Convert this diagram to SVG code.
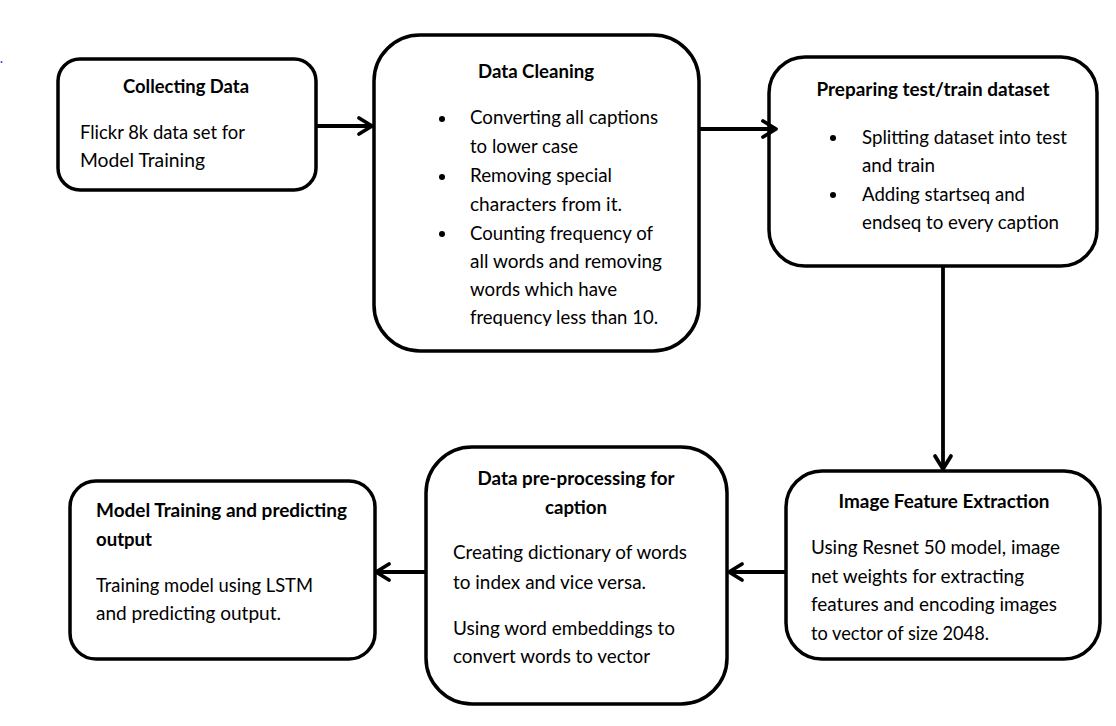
<svg xmlns="http://www.w3.org/2000/svg" width="1116" height="726" viewBox="0 0 1116 726">
<style>
.box{fill:#fff;stroke:#000;stroke-width:3.5}
text{font-family:Lato,"Open Sans","Liberation Sans",sans-serif;font-size:18.5px;fill:#000}
.t{font-weight:bold}
.c{text-anchor:middle}
.conn line{stroke:#000;stroke-width:3.8;marker-end:url(#ah)}
</style>
<defs>
<marker id="ah" markerUnits="userSpaceOnUse" viewBox="0 0 24 24" refX="19" refY="12" markerWidth="24" markerHeight="24" orient="auto" overflow="visible">
<path d="M6,4 L19,12 L6,20" fill="none" stroke="#000" stroke-width="3.8" stroke-linejoin="round" stroke-linecap="round"/>
</marker>
<clipPath id="clip2"><rect x="373" y="34" width="326" height="292"/></clipPath>
</defs>
<rect width="1116" height="726" fill="#fff"/>
<circle cx="1.5" cy="62" r="1" fill="#3344bb"/>

<g id="collecting-data">
<rect class="box" x="58" y="59" width="258" height="131" rx="22"/>
<text class="t c" x="186" y="93" textLength="126" lengthAdjust="spacingAndGlyphs">Collecting Data</text>
<text x="80" y="139" textLength="165" lengthAdjust="spacingAndGlyphs">Flickr 8k data set for</text>
<text x="80" y="167" textLength="125" lengthAdjust="spacingAndGlyphs">Model Training</text>
</g>

<g id="data-cleaning">
<rect class="box" x="374" y="35" width="325" height="316" rx="46"/>
<text class="t c" x="536" y="78" textLength="116" lengthAdjust="spacingAndGlyphs">Data Cleaning</text>
<circle cx="442" cy="119" r="3"/>
<circle cx="442" cy="177" r="3"/>
<circle cx="442" cy="234" r="3"/>
<g clip-path="url(#clip2)">
<text x="470" y="124" textLength="188" lengthAdjust="spacingAndGlyphs">Converting all captions</text>
<text x="470" y="153" textLength="108" lengthAdjust="spacingAndGlyphs">to lower case</text>
<text x="470" y="182" textLength="142" lengthAdjust="spacingAndGlyphs">Removing special</text>
<text x="470" y="211" textLength="152" lengthAdjust="spacingAndGlyphs">characters from it.</text>
<text x="470" y="240" textLength="183" lengthAdjust="spacingAndGlyphs">Counting frequency of</text>
<text x="470" y="268" textLength="192" lengthAdjust="spacingAndGlyphs">all words and removing</text>
<text x="470" y="296" textLength="147" lengthAdjust="spacingAndGlyphs">words which have</text>
<text x="470" y="324" textLength="188" lengthAdjust="spacingAndGlyphs">frequency less than 10.</text>
</g>
</g>

<g id="prepare-dataset">
<rect class="box" x="769" y="57" width="328" height="209" rx="36"/>
<text class="t c" x="933" y="96" textLength="233" lengthAdjust="spacingAndGlyphs">Preparing test/train dataset</text>
<circle cx="833" cy="138" r="3"/>
<circle cx="833" cy="195" r="3"/>
<text x="862" y="144" textLength="205" lengthAdjust="spacingAndGlyphs">Splitting dataset into test</text>
<text x="862" y="172" textLength="73" lengthAdjust="spacingAndGlyphs">and train</text>
<text x="862" y="201" textLength="163" lengthAdjust="spacingAndGlyphs">Adding startseq and</text>
<text x="862" y="229" textLength="197" lengthAdjust="spacingAndGlyphs">endseq to every caption</text>
</g>

<g id="image-feature-extraction">
<rect class="box" x="786" y="471" width="314" height="188" rx="36"/>
<text class="t c" x="944" y="508" textLength="211" lengthAdjust="spacingAndGlyphs">Image Feature Extraction</text>
<text x="811" y="554" textLength="249" lengthAdjust="spacingAndGlyphs">Using Resnet 50 model, image</text>
<text x="811" y="583" textLength="213" lengthAdjust="spacingAndGlyphs">net weights for extracting</text>
<text x="811" y="611" textLength="246" lengthAdjust="spacingAndGlyphs">features and encoding images</text>
<text x="811" y="640" textLength="178" lengthAdjust="spacingAndGlyphs">to vector of size 2048.</text>
</g>

<g id="caption-preprocessing">
<rect class="box" x="426" y="447" width="301" height="257" rx="46"/>
<text class="t c" x="576" y="485" textLength="197" lengthAdjust="spacingAndGlyphs">Data pre-processing for</text>
<text class="t c" x="576" y="514" textLength="62" lengthAdjust="spacingAndGlyphs">caption</text>
<text x="453" y="559" textLength="234" lengthAdjust="spacingAndGlyphs">Creating dictionary of words</text>
<text x="453" y="589" textLength="193" lengthAdjust="spacingAndGlyphs">to index and vice versa.</text>
<text x="453" y="635" textLength="222" lengthAdjust="spacingAndGlyphs">Using word embeddings to</text>
<text x="453" y="663" textLength="197" lengthAdjust="spacingAndGlyphs">convert words to vector</text>
</g>

<g id="model-training">
<rect class="box" x="70" y="481" width="305" height="178" rx="26"/>
<text class="t" x="96" y="517" textLength="251" lengthAdjust="spacingAndGlyphs">Model Training and predicting</text>
<text class="t" x="96" y="546" textLength="56" lengthAdjust="spacingAndGlyphs">output</text>
<text x="96" y="592" textLength="217" lengthAdjust="spacingAndGlyphs">Training model using LSTM</text>
<text x="96" y="620" textLength="185" lengthAdjust="spacingAndGlyphs">and predicting output.</text>
</g>

<g id="connectors" class="conn">
<line x1="316" y1="126" x2="372" y2="126"/>
<line x1="699" y1="129" x2="776" y2="129"/>
<line x1="943" y1="266" x2="943" y2="469"/>
<line x1="786" y1="572" x2="729" y2="572"/>
<line x1="426" y1="572" x2="376" y2="572"/>
</g>
</svg>
